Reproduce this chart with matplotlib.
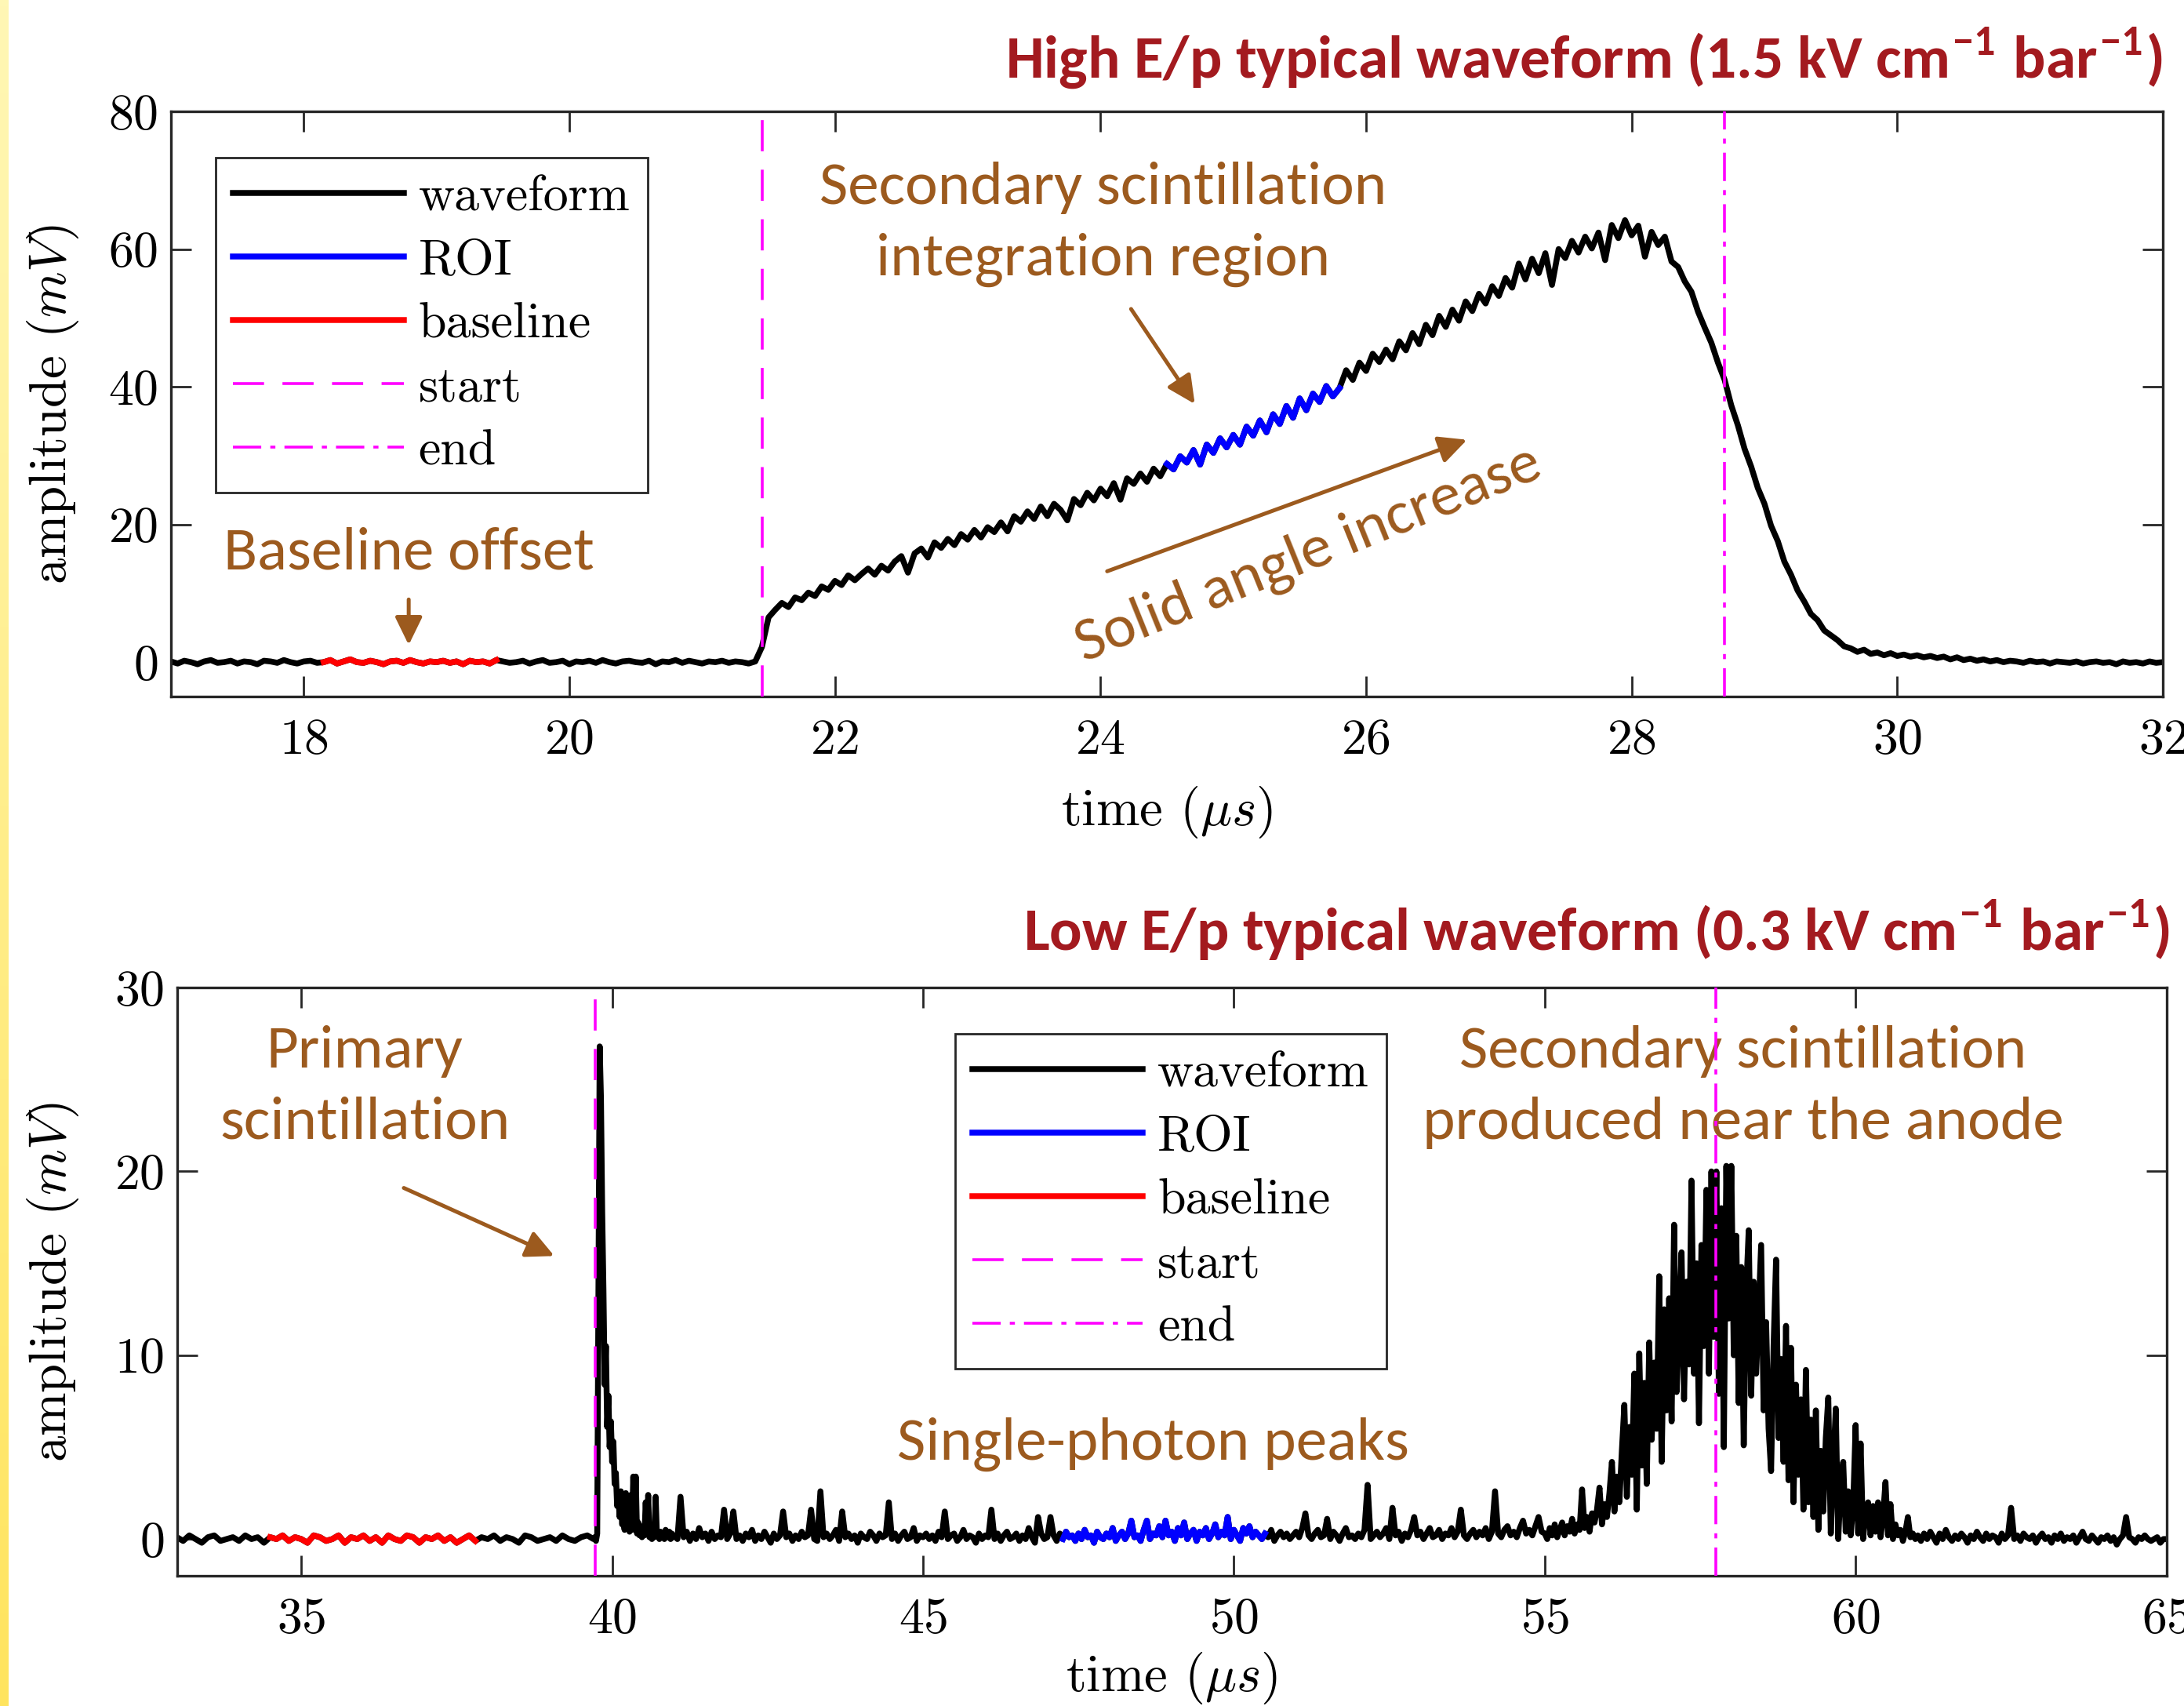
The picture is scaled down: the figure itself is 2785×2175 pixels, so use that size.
import numpy as np
import matplotlib
matplotlib.use("Agg")
import matplotlib.pyplot as plt
from matplotlib.colors import LinearSegmentedColormap

plt.rcParams.update({
    "font.family": "cmr10",
    "mathtext.fontset": "cm",
    "axes.unicode_minus": False,
    "axes.formatter.use_mathtext": True,
})

# ---------------- data: high E/p waveform (sampled every 0.05 us from 17 us) ----------------
high_t0 = 17.0
high_dt = 0.05
high_mv = [
    0.1, -0.2, 0.2, 0.0, -0.3, 0.1, 0.3, -0.1, 0.0, 0.2, -0.2, 0.1, 0.0, -0.3, 0.2, 0.1, -0.1, 0.3, 0.0, -0.2,
    0.1, 0.2, -0.1, 0.0, 0.3, -0.2, 0.1, 0.4, 0.0, -0.1, 0.2, 0.0, -0.3, 0.1, 0.2, -0.1, 0.3, 0.0, -0.2, 0.1,
    0.0, 0.2, -0.1, 0.1, -0.3, 0.2, 0.0, 0.1, -0.2, 0.3, 0.1, -0.1, 0.0, 0.2, -0.2, 0.1, 0.3, -0.1, 0.0, 0.2,
    -0.3, 0.1, 0.0, 0.2, -0.1, 0.3, 0.0, -0.2, 0.1, 0.2, 0.0, -0.1, 0.2, -0.3, 0.1, 0.0, 0.3, -0.1, 0.2, 0.0,
    -0.2, 0.1, 0.0, 0.2, -0.1, 0.1, 0.0, -0.2, 0.1, 2.2, 6.5, 7.6, 8.6, 8.0, 9.4, 9.0, 10.1, 9.6, 11.0, 10.5,
    11.8, 11.2, 12.6, 11.9, 12.8, 13.6, 12.7, 14.0, 13.3, 14.6, 15.4, 13.0, 15.8, 16.5, 15.2, 17.4, 16.6, 17.9, 17.0, 18.6,
    17.8, 19.2, 18.1, 19.6, 18.9, 20.3, 19.0, 21.2, 20.4, 21.9, 20.8, 22.6, 21.2, 23.0, 22.1, 20.6, 23.7, 22.8, 24.6, 23.5,
    25.2, 24.1, 26.0, 23.6, 26.7, 25.9, 27.4, 26.2, 28.1, 27.0, 28.8, 28.0, 29.9, 29.0, 30.8, 28.7, 31.6, 30.4, 32.5, 31.2,
    33.0, 31.6, 34.2, 32.9, 35.1, 33.4, 36.0, 34.6, 37.2, 35.5, 38.3, 36.6, 39.0, 37.8, 40.1, 38.6, 39.8, 42.4, 41.0, 43.5,
    42.3, 44.8, 43.6, 45.4, 44.0, 46.6, 45.3, 47.8, 46.2, 49.0, 47.5, 50.3, 48.7, 51.2, 49.6, 52.4, 51.0, 53.5, 52.1, 54.6,
    53.2, 55.8, 54.4, 57.9, 55.6, 58.6, 56.5, 59.4, 54.8, 60.0, 58.7, 61.2, 59.5, 61.8, 60.1, 62.4, 58.4, 63.5, 61.6, 64.2,
    62.0, 63.4, 58.9, 62.5, 60.6, 61.8, 58.2, 57.4, 55.3, 53.8, 50.9, 48.6, 46.4, 43.5, 41.0, 37.3, 34.4, 31.0, 28.4, 25.3,
    23.0, 19.8, 17.6, 14.6, 12.7, 10.4, 8.8, 7.0, 6.1, 4.6, 3.9, 3.2, 2.3, 2.0, 1.5, 1.8, 1.2, 1.4, 1.0, 1.3,
    0.9, 1.1, 0.8, 1.0, 0.7, 0.9, 0.6, 0.8, 0.4, 0.7, 0.3, 0.5, 0.2, 0.4, 0.1, 0.3, 0.0, 0.2, 0.1, -0.1,
    0.2, 0.0, 0.1, -0.2, 0.1, 0.0, -0.1, 0.1, -0.2, 0.0, 0.1, -0.1, 0.0, -0.3, 0.1, -0.1, 0.0, -0.2, 0.1, -0.1,
    0.0,
]
high_baseline_range = (18.15, 19.45)
high_roi_range = (24.5, 25.8)
high_start = 21.45
high_end = 28.7

# ---------------- data: low E/p waveform (segments with their own sampling) ----------------
low_pre_t0, low_pre_dt = 33.0, 0.1
low_pre_mv = [
    0.1, -0.1, 0.2, 0.0, -0.2, 0.1, 0.2, -0.1, 0.0, 0.1,
    -0.1, 0.2, 0.0, 0.1, -0.2, 0.1, 0.0, 0.2, -0.1, 0.1,
    0.0, -0.2, 0.2, 0.1, -0.1, 0.0, 0.2, -0.2, 0.1, 0.0,
    0.2, -0.1, 0.1, -0.2, 0.2, 0.0, -0.1, 0.2, 0.1, -0.2,
    0.1, 0.0, 0.2, -0.1, 0.1, -0.2, 0.0, 0.2, -0.1, 0.1,
    0.0, 0.2, -0.1, 0.1, 0.0, -0.2, 0.2, 0.1, -0.1, 0.0,
    0.1, -0.1, 0.2, 0.0, -0.1, 0.1, 0.2, 0.0,
]
low_primary_t0, low_primary_dt = 39.72, 0.02
low_primary_mv = [
    0.1, -0.1, 0.3, 14.0, 26.8, 24.0, 17.8, 13.6, 8.4, 10.5,
    6.1, 7.8, 5.0, 6.4, 4.2, 5.3, 3.0, 3.6, 1.8, 2.4,
    1.2, 2.6, 0.8, 1.0, 0.5, 2.5, 0.6, 1.5, 0.4, 2.4,
    0.5, 3.4, 0.6, 3.4, 0.3, 0.9, 0.2, 0.5, 0.1, 0.7,
    0.2, 2.0, 0.3, 2.4, 0.1, 0.4, 0.0, 0.6, 0.1, 2.3,
    0.2, 0.3, 0.0, 0.4, 0.1, 0.3, 0.0, 0.5, 0.2, 0.1,
    0.4, 0.0, 0.3, 0.1,
]
low_drift_t0, low_drift_dt = 41.0, 0.05
low_drift_mv = [
    0.2, 0.0, 2.3, 0.1, 0.4, -0.1, 0.3, 0.0, 0.6, 0.1, 0.3, -0.1, 0.4, 0.0, 0.2, 0.1, 1.6, 0.0, 0.3, 1.5,
    0.0, 0.2, -0.1, 0.3, 0.1, 0.5, -0.1, 0.2, 0.0, 0.4, 0.1, -0.2, 0.3, 0.0, 0.2, 1.5, 0.1, 0.3, -0.1, 0.2,
    0.0, 0.4, 0.1, 0.2, 1.6, 0.0, -0.1, 2.6, 0.1, 0.3, 0.0, 0.2, 0.5, -0.1, 1.5, 0.1, 0.3, 0.0, 0.2, -0.2,
    0.3, 0.1, 0.0, 0.4, 0.2, -0.1, 0.3, 0.1, 0.2, 2.0, 0.0, 0.3, -0.1, 0.2, 0.4, 0.0, 0.1, 0.6, -0.1, 0.2,
    0.1, 0.3, 0.0, 0.2, -0.1, 0.4, 0.1, 1.5, 0.0, 0.2, 0.3, -0.1, 0.1, 0.5, 0.0, 0.2, 0.1, -0.2, 0.3, 0.0,
    0.2, 0.1, 1.6, 0.0, 0.3, -0.1, 0.2, 0.4, 0.0, 0.1, 0.3, -0.1, 0.2, 0.0, 0.6, 0.1, -0.2, 1.2, 0.3, 0.0,
    0.1, 1.2, 0.2, -0.1, 0.3, 0.0, 0.4, 0.1, 0.2, -0.1, 0.3, 0.0, 0.5, 0.1, 0.2, -0.2, 0.4, 0.1, 0.0, 0.3,
    0.1, 0.6, -0.1, 0.2, 0.4, 0.0, 0.3, 1.0, 0.1, 0.2, -0.1, 0.5, 1.0, 0.0, 0.3, 0.2, 0.7, 0.1, 1.0, 0.2,
    0.4, -0.1, 0.6, 0.2, 0.9, 0.0, 0.3, 0.5, -0.1, 0.4, 0.2, 0.6, 0.0, 0.3, 0.8, 0.1, 0.4, 0.2, 1.2, 0.0,
    0.5, 0.2, -0.1, 0.6, 0.3, 0.7, 0.1, 0.4, 0.2, 0.0, 0.3, 0.1, 0.5, -0.1, 0.2, 0.4, 0.1, 0.3, 0.0, 0.2,
    0.4, 0.1, 0.6, 1.4, 0.2, 0.0, 0.3, 0.5, 0.1, 0.2, 1.1, 0.0, 0.4, 0.2, -0.1, 0.3, 0.6, 0.1, 0.2, 0.0,
    0.3, 0.1, 0.5, 2.95, 0.0, 0.2, 0.4, 0.1, 0.3, 0.6, 0.0, 1.7, 0.2, 0.4, -0.1, 0.3, 0.1, 0.5, 1.2, 0.2,
    0.4, 0.0, 0.3, 0.6, 0.1, 0.2, 0.5, 0.0, 0.3, 0.2, 0.6, 0.1, 0.4, 1.6, 0.2, 0.0, 0.3, 0.5, 0.1, 0.4,
    0.2, 0.6, 0.0, 0.4, 2.6, 0.3, 0.1, 0.5, 0.7, 0.2, 0.4, 0.1, 0.6, 1.0, 0.3, 0.5, 0.2, 0.7, 1.2, 0.4,
]
low_peak_t0, low_peak_dt = 55.0, 0.04
low_peak_mv = [
    0.3, 0.0, 0.6, 0.2, 0.8, 0.1, 0.5, 0.9, 0.2, 0.7, 0.4, 1.1, 0.3, 0.8, 0.5, 2.7, 0.6, 1.2, 0.4, 1.4, 0.9, 1.6, 2.8, 0.8, 1.9,
    1.2, 2.5, 4.2, 1.5, 3.4, 2.0, 4.8, 7.3, 2.3, 6.1, 3.5, 9.0, 1.6, 10.1, 4.0, 8.5, 3.0, 10.7, 5.4, 9.6, 6.0, 14.3, 4.2, 12.5, 7.0,
    13.1, 6.4, 17.1, 8.0, 11.5, 15.6, 7.6, 14.0, 9.5, 19.5, 9.0, 15.0, 6.3, 16.0, 10.5, 19.0, 9.0, 20.0, 11.0, 20.0, 7.9, 18.0, 5.0, 20.3, 12.0,
    20.3, 10.0, 16.5, 7.4, 14.8, 5.1, 13.5, 16.8, 7.8, 14.0, 9.0, 12.5, 16.0, 7.0, 11.8, 6.0, 3.7, 10.5, 15.2, 5.5, 9.8, 4.2, 11.6, 3.2, 10.4,
    2.0, 8.4, 3.5, 7.6, 1.6, 9.2, 2.0, 6.5, 1.2, 7.0, 0.5, 4.8, 1.5, 5.5, 7.7, 0.3, 4.0, 7.1, 0.0, 3.0, 4.2, 0.4, 2.6, 0.2, 1.8,
    6.2, 0.3, 5.2, 0.0, 1.5, 2.0, 0.2, 1.8, 0.4, 2.0, 0.1, 1.2, 3.1, 0.2, 1.9, 0.0, 0.8, 0.2, 0.5, -0.1, 0.4, 1.2, 0.1, 0.3, 0.0,
]
low_post_t0, low_post_dt = 61.0, 0.05
low_post_mv = [
    0.2, -0.1, 0.3, 0.0, 0.4, 0.1, -0.2, 0.3, 0.0, 0.5, 0.1, -0.1, 0.2, 0.0, 0.3, 0.1, -0.2, 0.2, 0.0, 0.4,
    0.1, -0.1, 0.3, 0.0, 0.2, 0.1, -0.2, 0.3, 0.0, 0.2, 1.7, 0.0, 0.2, -0.1, 0.3, 0.1, 0.0, 0.2, -0.2, 0.1,
    0.3, 0.0, 0.1, -0.2, 0.2, 0.0, 0.3, -0.1, 0.1, 0.0, 0.2, -0.2, 0.1, 0.4, 0.0, -0.1, 0.2, 0.0, -0.2, 0.1,
    0.0, 0.2, -0.1, 0.1, -0.3, 0.0, 0.2, 1.2, 0.1, 0.0, -0.2, 0.1, 0.0, 0.2, 0.0, -0.1, 0.0, 0.1, -0.2, 0.0,
    0.0,
]
low_baseline_range = (34.5, 37.8)
low_roi_range = (47.25, 50.5)
low_start = 39.73
low_end = 57.75

# ---------------- labels / styles ----------------
legend_labels = ["waveform", "ROI", "baseline", "start", "end"]
title_high = r"High E/p typical waveform (1.5 kV cm$^{\mathregular{-1}}$ bar$^{\mathregular{-1}}$)"
title_low = r"Low E/p typical waveform (0.3 kV cm$^{\mathregular{-1}}$ bar$^{\mathregular{-1}}$)"
BROWN = "#9C5A1E"
DARKRED = "#A31A1F"
AXCOL = "#262626"
ANN_FONT = ["Carlito", "Lato", "DejaVu Sans"]


def seg(t0, dt, vals):
    return t0 + dt * np.arange(len(vals)), np.asarray(vals, float)


t_high, v_high = seg(high_t0, high_dt, high_mv)
parts = [seg(low_pre_t0, low_pre_dt, low_pre_mv),
         seg(low_primary_t0, low_primary_dt, low_primary_mv),
         seg(low_drift_t0, low_drift_dt, low_drift_mv),
         seg(low_peak_t0, low_peak_dt, low_peak_mv),
         seg(low_post_t0, low_post_dt, low_post_mv)]
t_low = np.concatenate([p[0] for p in parts])
v_low = np.concatenate([p[1] for p in parts])

fig = plt.figure(figsize=(13.925, 10.875), dpi=200)

# yellow stripe at the left edge
sax = fig.add_axes([0, 0, 11 / 2785, 1])
grad = np.linspace(0, 1, 256).reshape(-1, 1)
ycm = LinearSegmentedColormap.from_list("y", ["#FFF7B5", "#FFE45E"])
sax.imshow(grad, aspect="auto", cmap=ycm, extent=[0, 1, 0, 1], origin="upper")
sax.axis("off")

ax1 = fig.add_axes([0.0783, 0.5917, 0.912, 0.343])
ax2 = fig.add_axes([0.0810, 0.0763, 0.911, 0.3448])

DASH = (0, (11, 6.5))
DASHDOT = (0, (10, 3.2, 1.8, 3.2))
LW = 2.7


def draw(ax, t, v, base_rng, roi_rng, start, end, leg_anchor):
    h_w, = ax.plot(t, v, color="k", lw=LW, zorder=2)
    m = (t >= roi_rng[0]) & (t <= roi_rng[1])
    h_r, = ax.plot(t[m], v[m], color="#0000FF", lw=LW, zorder=3)
    m = (t >= base_rng[0]) & (t <= base_rng[1])
    h_b, = ax.plot(t[m], v[m], color="#FF0000", lw=LW, zorder=3)
    h_s = ax.axvline(start, color="#FF00FF", lw=1.3, ls=DASH, zorder=4)
    h_e = ax.axvline(end, color="#FF00FF", lw=1.3, ls=DASHDOT, zorder=4)
    leg = ax.legend([h_w, h_r, h_b, h_s, h_e], legend_labels, loc="upper left",
                    bbox_to_anchor=leg_anchor, borderaxespad=0, fontsize=23,
                    handlelength=3.4, handletextpad=0.3, labelspacing=0.36,
                    borderpad=0.35, fancybox=False, framealpha=1, edgecolor=AXCOL)
    leg.get_frame().set_linewidth(1.0)
    for s in ax.spines.values():
        s.set_color(AXCOL)
        s.set_linewidth(1.2)
    ax.tick_params(direction="in", length=9.5, width=1.0, color=AXCOL,
                   top=True, right=True, labelsize=23, labelcolor="k")
    ax.tick_params(axis="x", pad=10)
    ax.tick_params(axis="y", pad=6)


draw(ax1, t_high, v_high, high_baseline_range, high_roi_range, high_start, high_end, (0.0224, 0.921))
draw(ax2, t_low, v_low, low_baseline_range, low_roi_range, low_start, low_end, (0.391, 0.921))

ax1.set_xlim(17, 32)
ax1.set_ylim(-5, 80)
ax1.set_xticks(np.arange(18, 33, 2))
ax1.set_yticks([0, 20, 40, 60, 80])
ax2.set_xlim(33, 65)
ax2.set_ylim(-2, 30)
ax2.set_xticks([35, 40, 45, 50, 55, 60, 65])
ax2.set_yticks([0, 10, 20, 30])

for ax, ly, lx in [(ax1, -0.0453, -0.150), (ax2, -0.0483, -0.126)]:
    ax.set_ylabel("amplitude ($mV$)", fontsize=24)
    ax.set_xlabel(r"time ($\mu s$)", fontsize=24)
    ax.yaxis.set_label_coords(ly, 0.5)
    ax.xaxis.set_label_coords(0.5, lx)
    ax.xaxis.label.set_va("top")

# titles
fig.text(0.9903, 0.9655, title_high, ha="right", va="center", color=DARKRED,
         fontsize=27.8, fontweight="bold", family=ANN_FONT)
fig.text(0.9935, 0.4547, title_low, ha="right", va="center", color=DARKRED,
         fontsize=27.8, fontweight="bold", family=ANN_FONT)

# annotations, top
kw = dict(color=BROWN, fontsize=28.5, family=ANN_FONT, ha="center", va="center", linespacing=1.45)
arr = dict(arrowstyle="-|>,head_length=0.45,head_width=0.22", color=BROWN, lw=1.8,
           shrinkA=0, shrinkB=0, mutation_scale=24)
ax1.text(24.02, 63.6, "Secondary scintillation\nintegration region", **kw)
ax1.annotate("", xy=(24.71, 37.5), xytext=(24.23, 51.3), arrowprops=arr)
ax1.text(25.57, 15.6, "Solid angle increase", rotation=22, rotation_mode="anchor", **kw)
ax1.annotate("", xy=(26.76, 32.3), xytext=(24.05, 13.2), arrowprops=arr)
ax1.text(18.79, 15.85, "Baseline offset", **kw)
ax1.annotate("", xy=(18.79, 2.5), xytext=(18.79, 9.1), arrowprops=arr)

# annotations, bottom
ax2.text(36.02, 24.6, "Primary\nscintillation", **kw)
ax2.annotate("", xy=(39.07, 15.4), xytext=(36.65, 19.1), arrowprops=arr)
ax2.text(48.70, 5.14, "Single-photon peaks", **kw)
ax2.text(58.19, 24.6, "Secondary scintillation\nproduced near the anode", **kw)

fig.savefig("out.png", dpi=200)
